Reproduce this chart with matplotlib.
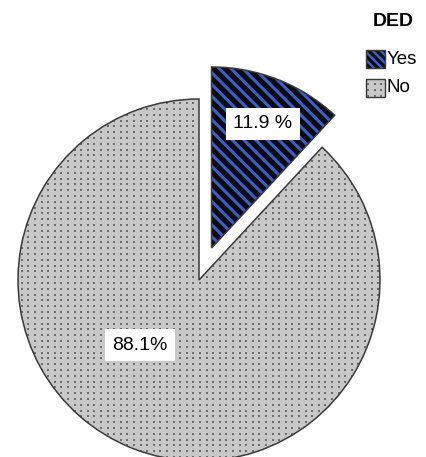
import numpy as np
import matplotlib
matplotlib.use("Agg")
import matplotlib.pyplot as plt
from matplotlib.patches import Rectangle, Wedge
from matplotlib.collections import LineCollection

plt.rcParams['font.family'] = ['Liberation Sans', 'DejaVu Sans']

categories = ['Yes', 'No']
shares = [11.9, 88.1]
share_labels = ['11.9 %', '88.1%']
legend_title = 'DED'

face_colors = ['#0b0b12', '#c8c8c8']
stripe_color = '#3d5ec6'
dot_color = '#6c6c6c'
edge_color = '#3a3a3a'

W, H = 427, 457
R = 181


def stripes(ax, clip, x0, x1, y0, y1, step=11.7, lw=2.2):
    # diagonal stripes running from upper left to lower right
    segs = []
    for c in np.arange(x0 + y0 - step, x1 + y1 + step, step):
        segs.append([(x0 - 5, c - x0 + 5), (x1 + 5, c - x1 - 5)])
    lc = LineCollection(segs, colors=stripe_color, linewidths=lw, zorder=2)
    ax.add_collection(lc)
    lc.set_clip_path(clip)


def dots(ax, clip, x0, x1, y0, y1, dx=6.6, dy=5.8):
    gx, gy = np.meshgrid(np.arange(x0, x1, dx), np.arange(y0, y1, dy))
    sc = ax.scatter(gx.ravel(), gy.ravel(), s=3.2, marker='s', c=dot_color,
                    linewidths=0, zorder=2)
    sc.set_clip_path(clip)


fig = plt.figure(figsize=(W / 100, H / 100), dpi=100)
ax = fig.add_axes([0, 0, 1, 1])

# explode is in data units once the radius is not 1
wedges, _ = ax.pie(shares, colors=face_colors, startangle=90, counterclock=False,
                   explode=[0.19 * R, 0], center=(199, 177), radius=R,
                   wedgeprops=dict(linewidth=0))

for w, fill in zip(wedges, ['stripes', 'dots']):
    ext = w.get_path().get_extents(w.get_patch_transform())
    if fill == 'stripes':
        stripes(ax, w, ext.x0, ext.x1, ext.y0, ext.y1)
    else:
        dots(ax, w, 2, W, 0, H)
    ax.add_patch(Wedge(w.center, w.r, w.theta1, w.theta2, facecolor='none',
                       edgecolor=edge_color, linewidth=1.1, zorder=3))

# value labels
label_pos = [(263, 333), (140, 112)]
for (x, y), txt in zip(label_pos, share_labels):
    ax.text(x, y, txt, ha='center', va='center', fontsize=14, zorder=5,
            bbox=dict(boxstyle='square,pad=0.4', facecolor='white', edgecolor='none'))

# legend
ax.text(393, 435, legend_title, ha='center', va='center', fontsize=14,
        fontweight='bold')
for i, name in enumerate(categories):
    yb = 389 - i * 29
    r = Rectangle((366, yb), 19, 18, facecolor=face_colors[i], edgecolor='none', zorder=1)
    ax.add_patch(r)
    if i == 0:
        stripes(ax, r, 366, 385, yb, yb + 18, step=8, lw=1.8)
    else:
        dots(ax, r, 368, 385, yb + 1, yb + 18)
    ax.add_patch(Rectangle((366, yb), 19, 18, facecolor='none', edgecolor=edge_color,
                           linewidth=1, zorder=3))
    ax.text(387, yb + 9, name, ha='left', va='center', fontsize=13.5)

ax.set_xlim(0, W)
ax.set_ylim(0, H)
ax.axis('off')

fig.savefig('out.png', dpi=100)
